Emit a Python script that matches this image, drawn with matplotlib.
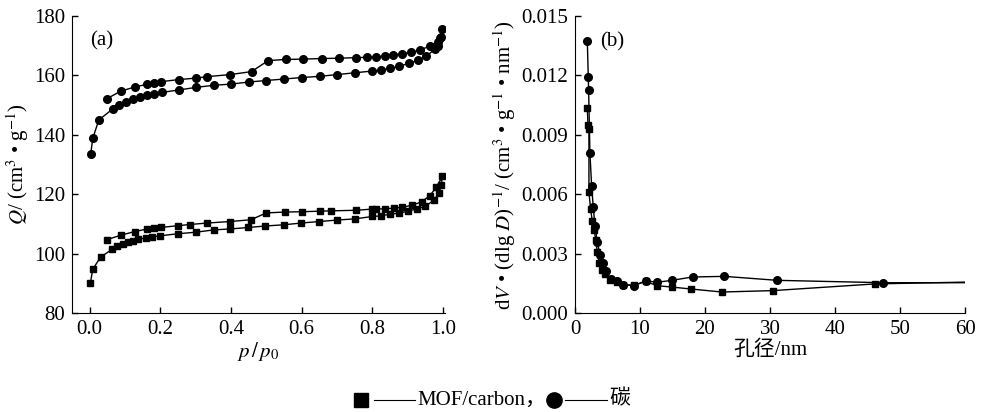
import matplotlib
matplotlib.use("Agg")
import matplotlib.pyplot as plt
from matplotlib.lines import Line2D

plt.rcParams['font.family'] = ['Liberation Serif', 'Noto Sans CJK SC']
plt.rcParams['mathtext.fontset'] = 'stix'
plt.rcParams['font.size'] = 15

# (a) isotherms: adsorption then desorption, one connected line each
carbon_p = [0.003, 0.009, 0.026, 0.066, 0.082, 0.102, 0.123, 0.143, 0.163, 0.183,
            0.204, 0.252, 0.302, 0.352, 0.401, 0.451, 0.5, 0.55, 0.6, 0.651,
            0.7, 0.751, 0.8, 0.825, 0.851, 0.876, 0.904, 0.929, 0.953, 0.976,
            0.987, 0.992, 0.998,
            0.995, 0.985, 0.962, 0.936, 0.91, 0.885, 0.858, 0.835, 0.809, 0.785,
            0.753, 0.706, 0.656, 0.604, 0.555, 0.505, 0.458, 0.398, 0.333, 0.3,
            0.252, 0.201, 0.181, 0.162, 0.127, 0.088, 0.049]
carbon_q = [133.6, 138.9, 145.0, 148.8, 150.0, 151.1, 152.0, 152.6, 153.3, 153.8,
            154.3, 155.1, 156.0, 156.7, 157.1, 157.8, 158.3, 158.8, 159.3, 159.7,
            160.3, 160.9, 161.5, 161.8, 162.4, 163.1, 164.1, 165.1, 166.5, 168.8,
            170.0, 172.5, 175.5,
            172.8, 171.4, 169.9, 168.6, 167.8, 167.3, 166.9, 166.5, 166.3, 166.1,
            166.0, 165.8, 165.7, 165.5, 165.4, 165.0, 161.3, 160.3, 159.6, 159.1,
            158.6, 157.9, 157.6, 157.0, 156.1, 154.7, 152.2]

mof_p = [0.002, 0.009, 0.031, 0.064, 0.078, 0.094, 0.108, 0.123, 0.137, 0.16,
         0.177, 0.2, 0.25, 0.3, 0.352, 0.398, 0.449, 0.497, 0.549, 0.599,
         0.649, 0.7, 0.75, 0.8, 0.823, 0.851, 0.875, 0.901, 0.926, 0.95,
         0.975, 0.988, 0.995, 0.998,
         0.981, 0.962, 0.939, 0.912, 0.885, 0.861, 0.835, 0.809, 0.8, 0.755,
         0.684, 0.651, 0.602, 0.552, 0.5, 0.456, 0.396, 0.333, 0.283, 0.25,
         0.201, 0.181, 0.163, 0.127, 0.088, 0.049]
mof_q = [90.1, 94.8, 98.8, 101.5, 102.4, 103.2, 103.8, 104.3, 104.9, 105.2,
         105.6, 106.0, 106.7, 107.2, 108.0, 108.3, 108.8, 109.3, 109.7, 110.3,
         110.8, 111.3, 111.7, 112.5, 112.7, 113.3, 113.6, 114.3, 115.1, 115.9,
         118.1, 120.4, 123.2, 126.0,
         122.3, 119.5, 117.4, 116.3, 115.6, 115.3, 115.1, 115.0, 115.0, 114.6,
         114.4, 114.3, 114.1, 114.0, 113.7, 111.4, 110.8, 110.3, 109.8, 109.4,
         108.8, 108.6, 108.3, 107.4, 106.2, 104.7]

# (b) pore size distributions
carbon_d = [1.9, 2.05, 2.1, 2.3, 2.56, 2.82, 3.08, 3.44, 3.85, 4.26, 4.77, 5.49,
            6.4, 7.4, 9.08, 10.9, 12.6, 14.9, 18.1, 23.0, 31.1, 47.4, 60.0]
carbon_dv = [0.01374, 0.01192, 0.01128, 0.00809, 0.00644, 0.00533, 0.00438,
             0.00359, 0.00295, 0.00253, 0.00211, 0.00172, 0.00160, 0.00143,
             0.00138, 0.00163, 0.00155, 0.00165, 0.00182, 0.00185, 0.00165,
             0.00153, 0.00153]

mof_d = [1.9, 2.0, 2.15, 2.15, 2.4, 2.67, 2.97, 3.18, 3.44, 3.74, 4.15, 4.6,
         5.38, 6.4, 7.4, 9.08, 10.9, 12.6, 14.9, 17.9, 22.6, 30.4, 46.2, 60.0]
mof_dv = [0.01037, 0.00952, 0.00927, 0.00610, 0.00526, 0.00463, 0.00418,
          0.00371, 0.00308, 0.00253, 0.00219, 0.00197, 0.00169, 0.00155,
          0.00143, 0.00140, 0.00160, 0.00138, 0.00131, 0.00121, 0.00106,
          0.00113, 0.00147, 0.00156]

fig = plt.figure(figsize=(9.82, 4.12), dpi=100)
ax1 = fig.add_axes([0.0733, 0.2403, 0.3797, 0.7207])
ax2 = fig.add_axes([0.5855, 0.2403, 0.3972, 0.7207])

# Panel (a)
ax1.plot(carbon_p, carbon_q, '-o', color='black', lw=1, ms=5.5)
ax1.plot(mof_p, mof_q, '-s', color='black', lw=1, ms=5)
ax1.set_xlim(-0.05, 1.005)
ax1.set_ylim(80, 180)
ax1.set_xticks([0.0, 0.2, 0.4, 0.6, 0.8, 1.0])
ax1.set_yticks([80, 100, 120, 140, 160, 180])
ax1.set_xticklabels(['0.0', '0.2', '0.4', '0.6', '0.8', '1.0'])
ax1.set_xlabel(r'$p\,/\,p_0$', labelpad=1)
ax1.set_ylabel(r'$Q$/ (cm$^3$ • g$^{-1}$)', labelpad=2)
ax1.text(0.048, 0.915, '(a)', transform=ax1.transAxes, va='center')

# Panel (b)
n_c = len(carbon_d)
n_m = len(mof_d)
ax2.plot(carbon_d, carbon_dv, '-o', color='black', lw=1, ms=5.5,
         markevery=list(range(n_c - 1)))
ax2.plot(mof_d, mof_dv, '-s', color='black', lw=1, ms=5,
         markevery=list(range(n_m - 1)))
ax2.set_xlim(0, 60)
ax2.set_ylim(0, 0.015)
ax2.set_xticks([0, 10, 20, 30, 40, 50, 60])
ax2.set_yticks([0.0, 0.003, 0.006, 0.009, 0.012, 0.015])
ax2.set_yticklabels(['0.000', '0.003', '0.006', '0.009', '0.012', '0.015'])
ax2.set_xlabel('孔径/nm', labelpad=1)
ax2.set_ylabel(r'd$V$ • (dlg $D$)$^{-1}$/ (cm$^3$ • g$^{-1}$ • nm$^{-1}$)',
               labelpad=2)
ax2.text(0.064, 0.913, '(b)', transform=ax2.transAxes, va='center')

for ax in (ax1, ax2):
    ax.spines['top'].set_visible(False)
    ax.spines['right'].set_visible(False)
    ax.tick_params(direction='in', length=4, width=1, pad=5)
    ax.margins(0)

# Legend line at the bottom, laid out piece by piece
ly = 0.029
W = 982.0
fig.add_artist(Line2D([361 / W], [ly], marker='s', color='black', ms=10,
                      transform=fig.transFigure))
fig.add_artist(Line2D([374 / W, 415 / W], [ly, ly], color='black', lw=0.8,
                      transform=fig.transFigure))
fig.text(417 / W, ly, 'MOF/carbon，', va='center', ha='left', fontsize=15)
fig.add_artist(Line2D([554 / W], [ly], marker='o', color='black', ms=11,
                      transform=fig.transFigure))
fig.add_artist(Line2D([565 / W, 607 / W], [ly, ly], color='black', lw=0.8,
                      transform=fig.transFigure))
fig.text(609 / W, ly, '碳', va='center', ha='left', fontsize=15)

fig.savefig('out.png', dpi=100)
